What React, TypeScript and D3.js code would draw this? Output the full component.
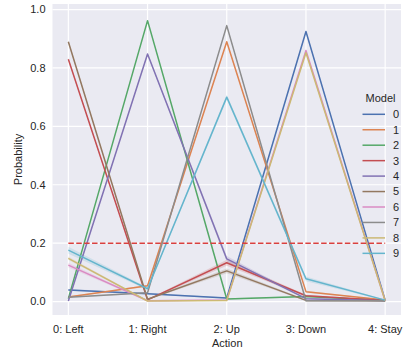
import React from 'react';
import * as d3 from 'd3';

// actions on the x axis
const actions = ['0: Left', '1: Right', '2: Up', '3: Down', '4: Stay'];
const models = ['0', '1', '2', '3', '4', '5', '6', '7', '8', '9'];
const yTicks = [0.0, 0.2, 0.4, 0.6, 0.8, 1.0];
const threshold = 0.2;

// mean probability per model, one value per action
const model0 = [0.040, 0.027, 0.012, 0.925, 0.005];
const model1 = [0.016, 0.054, 0.890, 0.034, 0.005];
const model2 = [0.010, 0.962, 0.009, 0.017, 0.004];
const model3 = [0.830, 0.006, 0.133, 0.020, 0.004];
const model4 = [0.002, 0.848, 0.146, 0.010, 0.003];
const model5 = [0.890, 0.008, 0.105, 0.004, 0.003];
const model6 = [0.125, 0.003, 0.005, 0.860, 0.003];
const model7 = [0.015, 0.030, 0.945, 0.003, 0.003];
const model8 = [0.148, 0.002, 0.004, 0.852, 0.003];
const model9 = [0.176, 0.044, 0.700, 0.078, 0.005];

// half width of the confidence band
const ci0 = [0.003, 0.002, 0.002, 0.004, 0.001];
const ci1 = [0.002, 0.003, 0.004, 0.003, 0.001];
const ci2 = [0.002, 0.003, 0.002, 0.002, 0.001];
const ci3 = [0.004, 0.002, 0.010, 0.003, 0.001];
const ci4 = [0.002, 0.004, 0.010, 0.002, 0.001];
const ci5 = [0.004, 0.002, 0.008, 0.002, 0.001];
const ci6 = [0.008, 0.002, 0.002, 0.004, 0.001];
const ci7 = [0.002, 0.002, 0.004, 0.002, 0.001];
const ci8 = [0.006, 0.002, 0.002, 0.004, 0.001];
const ci9 = [0.012, 0.004, 0.008, 0.008, 0.001];

const series = [model0, model1, model2, model3, model4, model5, model6, model7, model8, model9];
const bands = [ci0, ci1, ci2, ci3, ci4, ci5, ci6, ci7, ci8, ci9];

const palette = ['#4C72B0', '#DD8452', '#55A868', '#C44E52', '#8172B3',
  '#937860', '#DA8BC3', '#8C8C8C', '#CCB974', '#64B5CD'];

const W = 405, H = 349;
const plot = {left: 52.5, right: 401, top: 4, bottom: 315};
const font = '"Liberation Sans", Arial, sans-serif';
const textColor = '#262626';

export default function App() {
  const x = d3.scaleLinear().domain([-0.2, 4.2]).range([plot.left, plot.right]);
  const y = d3.scaleLinear().domain([-0.046, 1.019]).range([plot.bottom, plot.top]);

  const line = d3.line<number>().x((d, i) => x(i)).y(d => y(d));

  return (
    <svg width={W} height={H} style={{position: 'absolute', left: 0, top: 0, fontFamily: font}}>
      <rect x={plot.left} y={plot.top} width={plot.right - plot.left} height={plot.bottom - plot.top} fill="#EAEAF2" />
      {yTicks.map(t => (
        <line key={'gy' + t} x1={plot.left} x2={plot.right} y1={y(t)} y2={y(t)} stroke="#fff" strokeWidth={1.2} />
      ))}
      {actions.map((a, i) => (
        <line key={'gx' + a} x1={x(i)} x2={x(i)} y1={plot.top} y2={plot.bottom} stroke="#fff" strokeWidth={1.2} />
      ))}

      {series.map((s, k) => {
        const area = d3.area<number>()
          .x((d, i) => x(i))
          .y0((d, i) => y(d - bands[k][i]))
          .y1((d, i) => y(d + bands[k][i]));
        return <path key={'b' + k} d={area(s) || ''} fill={palette[k]} fillOpacity={0.2} stroke="none" />;
      })}
      {series.map((s, k) => (
        <path key={'l' + k} d={line(s) || ''} fill="none" stroke={palette[k]} strokeWidth={1.5} strokeLinejoin="round" />
      ))}

      <line x1={x(0)} x2={x(4)} y1={y(threshold)} y2={y(threshold)}
        stroke="#D9403F" strokeWidth={1.5} strokeDasharray="5.5,2.4" />

      {yTicks.map(t => (
        <text key={'ty' + t} x={plot.left - 7} y={y(t)} dy="0.35em" textAnchor="end" fontSize={11} fill={textColor}>
          {d3.format('.1f')(t)}
        </text>
      ))}
      {actions.map((a, i) => (
        <text key={'tx' + a} x={x(i)} y={333} textAnchor="middle" fontSize={11} fill={textColor}>{a}</text>
      ))}
      <text x={(plot.left + plot.right) / 2 + 0.5} y={347} textAnchor="middle" fontSize={11} fill={textColor}>Action</text>
      <text transform={`translate(22,${(plot.top + plot.bottom) / 2}) rotate(-90)`} textAnchor="middle" fontSize={11} fill={textColor}>Probability</text>

      <text x={380.5} y={98.5} dy="0.35em" textAnchor="middle" fontSize={11} fill={textColor}>Model</text>
      {models.map((m, k) => {
        const ly = 114.3 + k * 15.45;
        return (
          <g key={'lg' + m}>
            <line x1={362.5} x2={385} y1={ly} y2={ly} stroke={palette[k]} strokeWidth={1.5} />
            <text x={393} y={ly} dy="0.35em" fontSize={11} fill={textColor}>{m}</text>
          </g>
        );
      })}
    </svg>
  );
}
